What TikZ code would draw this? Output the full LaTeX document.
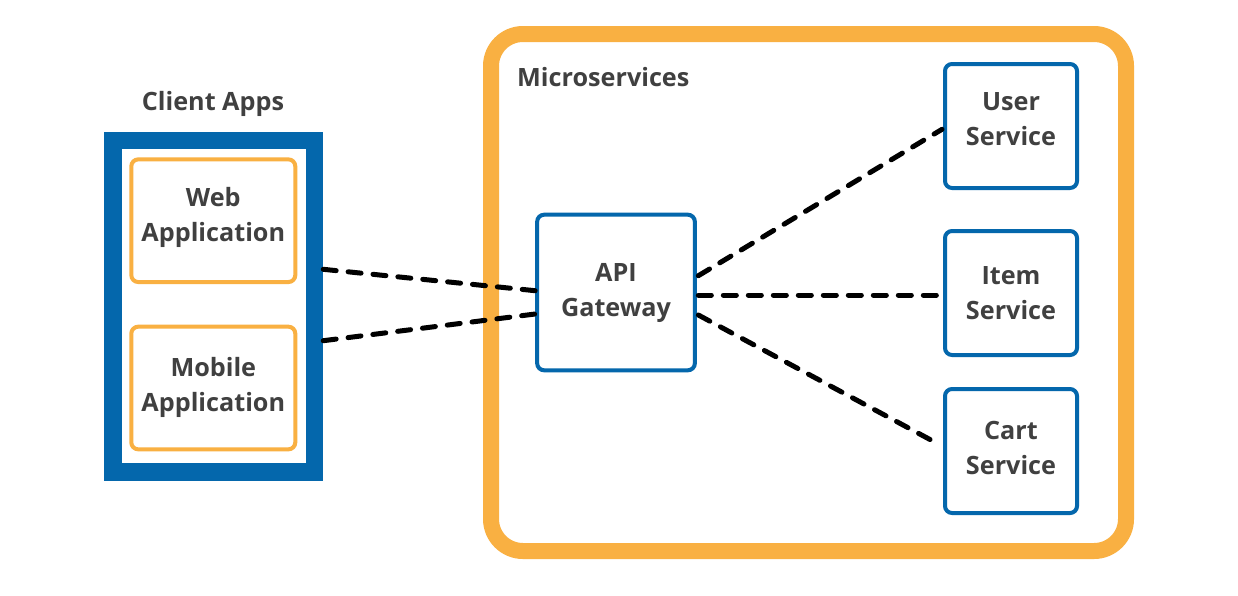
\documentclass[tikz,border=0pt]{standalone}
\usepackage{fontspec}
\setmainfont{Open Sans}
\definecolor{cblue}{HTML}{0467AC}
\definecolor{corange}{HTML}{F9B042}
\definecolor{ctext}{HTML}{404040}
\tikzset{
  lbl/.style={text=ctext, font=\bfseries\fontsize{25.2}{35}\selectfont, inner sep=0pt, anchor=base},
  svcbox/.style={draw=cblue, line width=4pt, rounded corners=7pt, fill=white, inner sep=0pt,
    minimum width=132pt, minimum height=124pt},
  appbox/.style={svcbox, draw=corange, minimum width=164pt, minimum height=122.7pt},
  conn/.style={draw=black, line width=5pt, line cap=round, dash pattern=on 13pt off 12pt}
}
\begin{document}
\begin{tikzpicture}[x=1pt,y=-1pt]
\useasboundingbox (0,0) rectangle (1238,595);
\fill[white] (0,0) rectangle (1238,595);
% client apps container
\node[draw=cblue, line width=17.5pt, fill=white, minimum width=201.5pt, minimum height=331.7pt, inner sep=0pt] (client) at (213.75,306.15) {};
\node[lbl] (clienttitle) at (213,110) {Client Apps};
\node[appbox] (web) at (213.3,220.7) {};
\node[lbl] (web-l1) at (213.3,206) {Web};
\node[lbl] (web-l2) at (213.3,241) {Application};
\node[appbox] (mobile) at (213.3,388) {};
\node[lbl] (mobile-l1) at (213.3,376.7) {Mobile};
\node[lbl] (mobile-l2) at (213.3,411.7) {Application};
% microservices container
\node[draw=corange, line width=16pt, rounded corners=32pt, fill=white, minimum width=635pt, minimum height=517pt, inner sep=0pt] (micro) at (808.5,292.5) {};
\node[lbl, anchor=base west] (microtitle) at (517,86) {Microservices};
\node[svcbox, minimum width=157.7pt, minimum height=155.6pt] (api) at (616,292.5) {};
\node[lbl] (api-l1) at (616,281) {API};
\node[lbl] (api-l2) at (616,316) {Gateway};
\node[svcbox] (user) at (1011,126) {};
\node[lbl] (user-l1) at (1011,110) {User};
\node[lbl] (user-l2) at (1011,145) {Service};
\node[svcbox] (item) at (1011,293) {};
\node[lbl] (item-l1) at (1011,284.7) {Item};
\node[lbl] (item-l2) at (1011,319.5) {Service};
\node[svcbox] (cart) at (1011,451) {};
\node[lbl] (cart-l1) at (1011,439.3) {Cart};
\node[lbl] (cart-l2) at (1011,474.3) {Service};
% connectors
\coordinate (cl) at (client.east);
\draw[conn] (cl |- 0,269.3) -- (api.west |- 0,290.7);
\draw[conn] (cl |- 0,340.7) -- (api.west |- 0,314);
\coordinate (ar) at ([xshift=1.5pt]api.east);
\draw[conn] (ar |- 0,275.7) -- ([xshift=-1pt]user.west |- 0,129.3);
\draw[conn] (ar |- 0,295) -- ([xshift=-1pt]item.west |- 0,295);
\draw[conn, shorten >=7pt] (ar |- 0,315) -- (cart.west |- 0,446.5);
\end{tikzpicture}
\end{document}
